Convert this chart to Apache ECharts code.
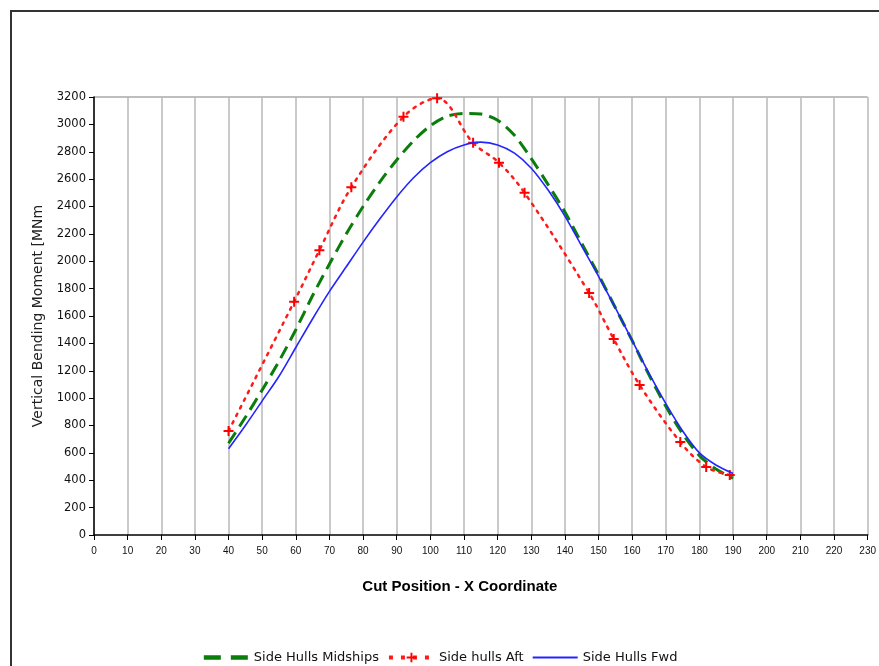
<!DOCTYPE html>
<html>
<head>
<meta charset="utf-8">
<script src="https://cdn.jsdelivr.net/npm/echarts@6/dist/echarts.min.js"></script>
<style>
html,body{margin:0;padding:0;background:#fff;}
#chart{width:879px;height:666px;}
</style>
</head>
<body>
<div id="chart"></div>
<script>
// Side Hulls Midships (green dashed)
var midX = [40,45,50,55,60,65,70,75,80,85,90,95,100,105,110,115,120,125,130,135,140,145,150,155,160,165,170,175,180,185,190];
var midY = [670,860,1060,1270,1500,1750,1980,2200,2400,2580,2740,2880,2990,3060,3080,3075,3030,2920,2750,2560,2360,2130,1900,1660,1420,1170,940,740,580,480,415];
// Side hulls Aft (red dotted with + markers)
var aftX = [40,59.5,67,76.5,92,102,112.7,120.4,128,147.2,154.5,162.2,174.3,182,189];
var aftY = [760,1705,2080,2540,3055,3190,2865,2720,2500,1768,1432,1096,679,497,438];
// Side Hulls Fwd (blue solid)
var fwdX = [40,45,50,55,60,65,70,75,80,85,90,95,100,105,110,115,120,125,130,135,140,145,150,155,160,165,170,175,180,185,190];
var fwdY = [630,800,980,1160,1370,1580,1780,1960,2140,2310,2470,2610,2720,2800,2850,2870,2850,2790,2680,2520,2330,2110,1890,1660,1420,1180,960,760,600,510,450];

var seriesNames = ['Side Hulls Midships','Side hulls Aft','Side Hulls Fwd'];
var xTitle = 'Cut Position - X Coordinate';
var yTitle = 'Vertical Bending Moment [MNm';

function pairs(xs, ys){ return xs.map(function(x,i){ return [x, ys[i]]; }); }

var plusPath = 'path://M-1,-5 L1,-5 L1,-1 L5,-1 L5,1 L1,1 L1,5 L-1,5 L-1,1 L-5,1 L-5,-1 L-1,-1 Z';

var yLineColors = [];
for (var i = 0; i < 16; i++) yLineColors.push('rgba(0,0,0,0)');
yLineColors.push('#a8a8a8');

var hideSymbol = { color: 'rgba(0,0,0,0)', borderWidth: 0, opacity: 0 };

var chart = echarts.init(document.getElementById('chart'));
chart.setOption({
  animation: false,
  backgroundColor: '#fff',
  textStyle: { fontFamily: 'Liberation Sans, Arial, sans-serif' },
  graphic: [{
    type: 'rect', shape: { x: 11, y: 11, width: 900, height: 700 },
    style: { fill: 'none', stroke: '#333', lineWidth: 2 }, z: -1
  }],
  grid: { left: 94, right: 5, top: 97, bottom: 131, containLabel: false },
  xAxis: {
    type: 'value', min: 0, max: 230, interval: 10,
    name: xTitle, nameLocation: 'middle', nameGap: 44,
    nameTextStyle: { fontSize: 15, fontWeight: 'bold', color: '#000', padding: [0, 42, 0, 0] },
    axisLine: { lineStyle: { color: '#000', width: 1.5 } },
    axisTick: { show: true, inside: false, length: 5, lineStyle: { color: '#000' } },
    axisLabel: { fontSize: 10, color: '#111', margin: 11 },
    splitLine: { show: true, lineStyle: { color: '#b8b8b8', width: 1.5 } }
  },
  yAxis: {
    type: 'value', min: 0, max: 3200, interval: 200,
    name: yTitle, nameLocation: 'middle', nameGap: 49,
    nameTextStyle: { fontSize: 14, color: '#222', fontFamily: 'DejaVu Sans' },
    axisLine: { show: true, lineStyle: { color: '#000', width: 1.5 } },
    axisTick: { show: true, inside: false, length: 5, lineStyle: { color: '#000' } },
    axisLabel: { fontSize: 11.5, color: '#111', margin: 8, fontFamily: 'DejaVu Sans',
      formatter: function (v) { return String(v); } },
    splitLine: { show: true, lineStyle: { color: yLineColors, width: 1.5 } }
  },
  legend: {
    top: 646, left: 'center', itemWidth: 45, itemHeight: 12, itemGap: 8,
    textStyle: { fontSize: 13, color: '#111', fontFamily: 'DejaVu Sans' },
    data: [
      { name: seriesNames[0], itemStyle: hideSymbol, lineStyle: { width: 4.5, type: [17, 10] } },
      { name: seriesNames[1], lineStyle: { width: 4, type: [4, 8], cap: 'butt' } },
      { name: seriesNames[2], itemStyle: hideSymbol }
    ]
  },
  series: [
    {
      name: seriesNames[0], type: 'line', data: pairs(midX, midY),
      smooth: 0.3, symbol: 'none',
      lineStyle: { color: '#0a7d0a', width: 3, type: [13, 7] },
      itemStyle: { color: '#0a7d0a' }, z: 2
    },
    {
      name: seriesNames[1], type: 'line', data: pairs(aftX, aftY),
      smooth: 0.35, symbol: plusPath, symbolSize: 10, showSymbol: true,
      lineStyle: { color: '#ff1a1a', width: 2.5, type: [2.5, 6], cap: 'round' },
      itemStyle: { color: '#ff0000' }, z: 3
    },
    {
      name: seriesNames[2], type: 'line', data: pairs(fwdX, fwdY),
      smooth: 0.3, symbol: 'none',
      lineStyle: { color: '#2424ff', width: 1.6 },
      itemStyle: { color: '#2424ff' }, z: 4
    }
  ]
});
</script>
</body>
</html>
